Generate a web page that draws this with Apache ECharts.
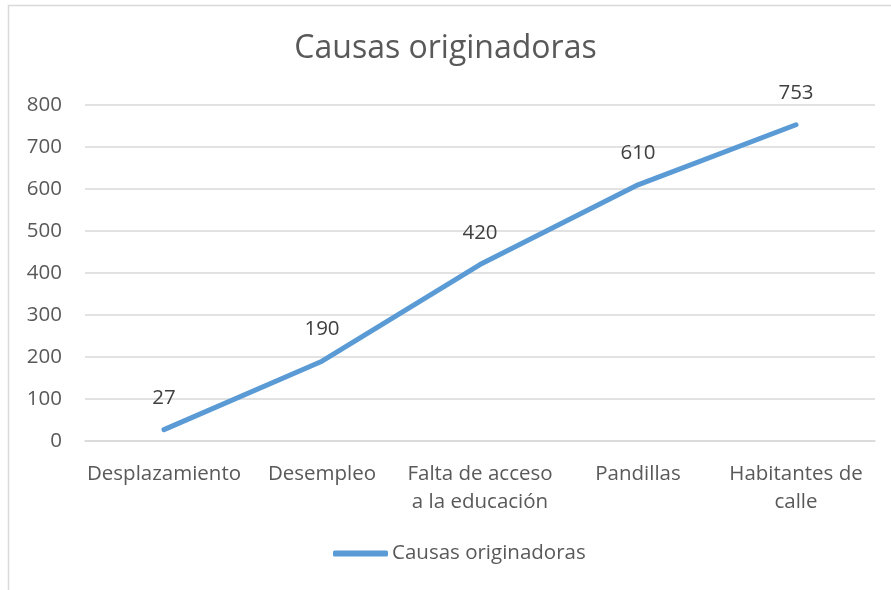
<!DOCTYPE html>
<html><head><meta charset="utf-8">
<script src="https://cdn.jsdelivr.net/npm/echarts@6/dist/echarts.min.js"></script>
<style>html,body{margin:0;padding:0;background:#fff}#c{width:891px;height:590px}</style>
</head><body><div id="c"></div>
<script>
const title = 'Causas originadoras';
const seriesName = 'Causas originadoras';
const categories = ['Desplazamiento', 'Desempleo', 'Falta de acceso\na la educación', 'Pandillas', 'Habitantes de\ncalle'];
const values = [27, 190, 420, 610, 753];
const yTicks = { min: 0, max: 800, interval: 100 };
const FONT = 'Open Sans';
const FS = 20.5;
const chart = echarts.init(document.getElementById('c'), null, {renderer: 'canvas'});
chart.setOption({
  animation: false,
  backgroundColor: '#fff',
  graphic: [{type: 'rect', shape: {x: 8.5, y: 5.5, width: 900, height: 600}, style: {fill: 'none', stroke: '#d9d9d9', lineWidth: 1.5}, silent: true, z: -1}],
  title: {text: title, left: 'center', top: 28, textStyle: {fontFamily: FONT, fontSize: 32, fontWeight: 'normal', color: '#595959'}},
  legend: {bottom: 21, left: 328, itemWidth: 55, itemHeight: 6, itemGap: 4, icon: 'roundRect',
    textStyle: {fontFamily: FONT, fontSize: FS, color: '#595959', padding: [0,0,0,-1]}, data: [seriesName]},
  grid: {left: 85, right: 16, top: 105, bottom: 149, containLabel: false},
  xAxis: {type: 'category', data: categories, boundaryGap: true,
    axisLine: {show: true, lineStyle: {color: '#d9d9d9', width: 1.5}}, axisTick: {show: false},
    axisLabel: {interval: 0, fontFamily: FONT, fontSize: FS, color: '#595959', margin: 19, lineHeight: 28}},
  yAxis: {type: 'value', min: yTicks.min, max: yTicks.max, interval: yTicks.interval,
    axisLine: {show: false}, axisTick: {show: false},
    splitLine: {lineStyle: {color: '#d9d9d9', width: 1.5}},
    axisLabel: {fontFamily: FONT, fontSize: FS, color: '#595959', margin: 23}},
  series: [{name: seriesName, type: 'line', data: values, symbol: 'circle', symbolSize: 0.1, showSymbol: true,
    lineStyle: {color: '#5b9bd5', width: 5, cap: 'round', join: 'round'}, itemStyle: {color: '#5b9bd5'},
    label: {show: true, position: 'top', distance: 21, fontFamily: FONT, fontSize: FS, color: '#404040'}}]
});
</script></body></html>
